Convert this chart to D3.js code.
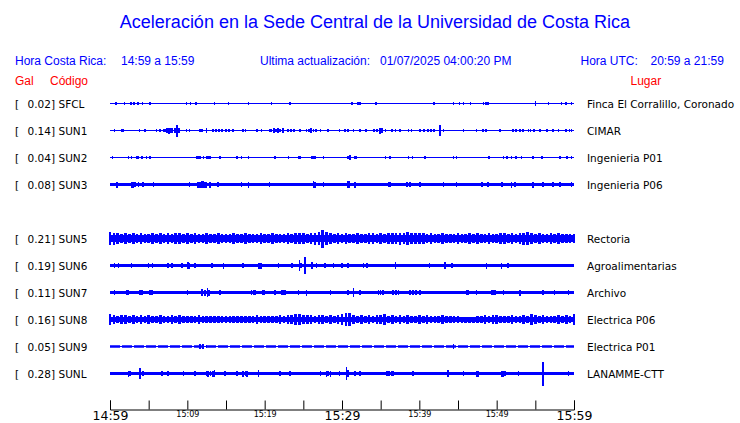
<!DOCTYPE html>
<html><head><meta charset="utf-8">
<script src="https://cdn.jsdelivr.net/npm/d3@7"></script>
<style>body{margin:0;background:#fff}svg{display:block}</style>
</head><body><svg id="c" width="740" height="423"></svg>
<script>
// ---------- DATA ----------
const titleText = "Aceleración en la Sede Central de la Universidad de Costa Rica";
const localRange = "14:59 a 15:59";
const utcRange = "20:59 a 21:59";
const lastUpdate = "01/07/2025 04:00:20 PM";

const rowOrder = ["SFCL","SUN1","SUN2","SUN3","SUN4","SUN5","SUN6","SUN7","SUN8","SUN9","SUNL"];
const codes = ["SFCL","SUN1","SUN2","SUN3","SUN5","SUN6","SUN7","SUN8","SUN9","SUNL"];
const galValues = [0.02,0.14,0.04,0.08,0.21,0.19,0.11,0.16,0.05,0.28];
const places = ["Finca El Corralillo, Coronado","CIMAR","Ingenieria P01","Ingenieria P06","Rectoria",
  "Agroalimentarias","Archivo","Electrica P06","Electrica P01","LANAMME-CTT"];
// background noise half-amplitude (Gal)
const baseNoise = [0.012,0.016,0.012,0.045,0.085,0.042,0.04,0.062,0.028,0.045];

// spikes: [minutes after 14:59, half-amplitude in Gal]
const spikesSFCL = [[0.8,.035],[1.9,.04],[2.7,.035],[3.1,.035],[3.6,.045],[4.2,.03],[5.2,.03],[9.9,.03],[10.4,.035],[11.1,.035],[13.5,.04],[15.3,.04],[17.9,.03],[20.9,.035],[23.3,.03],[31.3,.035],[32.1,.03],[32.3,.035],[34.4,.03],[41.9,.035],[44.4,.03],[45.2,.035],[45.7,.03],[46.6,.03],[48.3,.035],[48.6,.035],[48.9,.035],[55.0,.05],[56.7,.035],[58.4,.035],[59.0,.03],[59.7,.03]];
const spikesSUN1 = [[0.6,.025],[1.5,.035],[1.7,.035],[3.8,.025],[4.5,.025],[6.0,.035],[6.5,.035],[6.9,.045],[7.1,.045],[7.4,.06],[7.6,.07],[7.9,.06],[8.1,.06],[8.4,.06],[8.7,.14],[8.9,.06],[9.9,.025],[10.3,.025],[11.6,.035],[11.9,.035],[12.5,.06],[13.3,.035],[13.7,.035],[14.1,.025],[14.5,.035],[15.0,.025],[15.4,.035],[15.9,.035],[17.2,.035],[17.5,.035],[19.0,.035],[19.6,.035],[20.7,.035],[20.9,.045],[21.2,.06],[21.5,.045],[21.7,.06],[22.0,.045],[22.4,.06],[23.0,.035],[23.4,.035],[23.8,.035],[24.6,.035],[25.4,.045],[25.7,.045],[26.0,.06],[26.3,.045],[26.6,.045],[27.2,.035],[28.2,.035],[29.7,.035],[30.4,.025],[30.8,.035],[31.5,.025],[32.3,.025],[33.1,.025],[34.1,.045],[34.5,.045],[34.9,.07],[35.2,.06],[35.6,.045],[36.5,.035],[36.9,.035],[37.5,.025],[38.6,.025],[39.0,.025],[40.1,.035],[40.6,.035],[41.1,.045],[41.5,.035],[41.9,.035],[42.7,.12],[43.1,.035],[45.7,.035],[47.4,.025],[48.2,.035],[48.6,.035],[50.4,.025],[52.1,.035],[52.5,.035],[53.0,.035],[53.4,.035],[54.1,.045],[54.4,.045],[54.8,.045],[55.6,.035],[56.5,.025],[57.3,.025],[58.0,.035],[59.0,.035],[59.4,.035],[59.7,.035]];
const spikesSUN2 = [[0.3,.035],[2.4,.025],[2.8,.035],[3.5,.035],[3.7,.035],[4.1,.025],[4.7,.025],[5.2,.025],[11.2,.025],[11.4,.035],[11.6,.035],[12.1,.035],[12.5,.035],[12.7,.035],[12.9,.035],[14.2,.035],[16.4,.025],[17.0,.035],[17.9,.035],[21.3,.025],[23.1,.025],[24.4,.025],[24.6,.025],[26.1,.035],[26.3,.035],[26.5,.035],[27.6,.025],[30.8,.035],[31.0,.06],[31.7,.035],[31.9,.035],[35.6,.025],[36.2,.025],[38.6,.025],[39.1,.025],[40.7,.025],[44.4,.025],[44.8,.025],[49.0,.035],[50.9,.025],[51.3,.025],[51.9,.025],[52.5,.025],[53.2,.025],[54.7,.025],[55.9,.025],[58.2,.025],[59.1,.035],[59.7,.025]];
const spikesSUN3 = [[0.9,.07],[2.8,.07],[3.0,.07],[3.2,.06],[3.7,.06],[4.3,.06],[5.6,.06],[10.3,.06],[11.4,.07],[11.6,.07],[11.9,.08],[12.1,.09],[12.3,.07],[12.5,.07],[12.9,.07],[14.0,.06],[17.0,.06],[17.9,.07],[20.6,.06],[26.3,.09],[26.5,.07],[27.6,.06],[30.8,.08],[30.9,.09],[31.7,.07],[36.0,.06],[36.2,.06],[38.4,.06],[38.8,.06],[40.1,.06],[43.1,.06],[44.8,.06],[48.1,.06],[48.9,.06],[50.7,.06],[51.9,.07],[52.4,.06],[54.7,.07],[56.0,.06],[57.3,.06],[58.2,.06],[59.7,.06]];
const spikesSUN5 = [];
const spikesSUN6 = [[0.6,.05],[1.1,.05],[2.8,.05],[5.0,.05],[5.5,.05],[7.5,.05],[8.0,.05],[9.3,.05],[10.0,.08],[10.1,.09],[10.3,.07],[11.0,.06],[13.2,.06],[14.7,.07],[17.2,.05],[19.3,.07],[19.5,.07],[21.8,.05],[23.5,.05],[24.5,.12],[24.7,.06],[25.2,.19],[26.1,.09],[26.7,.06],[27.8,.05],[28.9,.05],[30.0,.05],[30.8,.05],[32.8,.05],[33.2,.05],[36.9,.09],[41.3,.05],[43.3,.09],[44.2,.06],[48.7,.07],[50.6,.07],[51.5,.05]];
const spikesSUN7 = [[0.6,.05],[2.2,.05],[2.4,.05],[3.9,.05],[4.1,.05],[5.2,.06],[5.4,.06],[8.8,.045],[10.0,.05],[11.9,.09],[12.3,.07],[12.6,.1],[12.8,.07],[14.2,.05],[18.3,.06],[18.6,.06],[18.8,.06],[19.8,.05],[20.0,.05],[21.3,.05],[22.2,.06],[22.4,.05],[22.6,.06],[24.4,.05],[25.4,.07],[28.5,.05],[30.8,.05],[31.5,.11],[32.3,.05],[34.7,.06],[35.0,.06],[35.3,.05],[36.6,.05],[37.0,.05],[37.3,.05],[38.8,.05],[39.2,.05],[39.6,.06],[40.1,.05],[41.8,.045],[46.1,.05],[46.3,.05],[47.4,.05],[49.4,.05],[49.6,.05],[49.8,.05],[50.9,.05],[53.0,.07],[56.0,.05],[57.5,.05],[59.3,.05]];
const spikesSUN8 = [];
const spikesSUN9 = [[11.6,.05],[12.0,.05],[12.5,.04],[44.4,.05]];
const spikesSUNL = [[2.4,.07],[2.6,.06],[3.9,.12],[4.3,.06],[6.7,.05],[7.5,.05],[9.5,.05],[11.0,.05],[12.5,.06],[12.7,.07],[13.0,.06],[13.3,.07],[13.5,.09],[14.9,.05],[16.4,.05],[17.2,.07],[17.5,.06],[17.7,.07],[19.2,.09],[22.0,.05],[23.3,.05],[27.2,.05],[28.0,.07],[28.2,.06],[28.5,.07],[29.7,.05],[30.6,.16],[30.8,.09],[31.7,.05],[32.3,.05],[35.8,.05],[36.1,.05],[36.4,.05],[36.6,.05],[39.2,.05],[43.7,.09],[45.7,.05],[47.4,.07],[47.6,.07],[50.7,.07],[50.9,.07],[51.1,.06],[52.8,.05],[56.0,.28],[59.3,.05]];

// envelope of the noisy traces, one value every 30 s (Gal)
const envSUN5 = [0.15,0.14,0.12,0.11,0.12,0.10,0.12,0.11,0.13,0.11,
  0.10,0.12,0.11,0.12,0.10,0.13,0.11,0.12,0.13,0.11,
  0.12,0.10,0.12,0.11,0.10,0.12,0.11,0.10,0.12,0.11,
  0.10,0.11,0.13,0.11,0.10,0.12,0.11,0.10,0.11,0.12,
  0.11,0.10,0.12,0.11,0.10,0.11,0.12,0.11,0.13,0.12,
  0.12,0.11,0.13,0.14,0.16,0.21,0.15,0.12,0.11,0.12,
  0.11,0.12,0.10,0.11,0.12,0.11,0.10,0.12,0.13,0.11,
  0.12,0.11,0.12,0.13,0.12,0.14,0.13,0.15,0.13,0.12,
  0.13,0.12,0.11,0.12,0.10,0.11,0.12,0.11,0.10,0.11,
  0.12,0.11,0.10,0.12,0.11,0.12,0.10,0.11,0.12,0.11,
  0.11,0.12,0.13,0.11,0.12,0.11,0.12,0.14,0.16,0.12,
  0.11,0.12,0.11,0.10,0.12,0.11,0.12,0.11,0.10,0.11,
  0.11];
const envSUN8 = [0.12,0.11,0.09,0.10,0.11,0.09,0.10,0.08,0.10,0.09,
  0.10,0.09,0.08,0.10,0.09,0.08,0.10,0.09,0.10,0.08,
  0.09,0.08,0.09,0.10,0.08,0.09,0.08,0.08,0.09,0.08,
  0.08,0.09,0.08,0.08,0.09,0.08,0.09,0.08,0.10,0.09,
  0.08,0.09,0.08,0.09,0.10,0.09,0.11,0.10,0.12,0.13,
  0.11,0.10,0.11,0.09,0.10,0.11,0.09,0.10,0.09,0.10,
  0.12,0.16,0.15,0.10,0.09,0.10,0.09,0.10,0.09,0.10,
  0.10,0.12,0.09,0.10,0.09,0.10,0.09,0.10,0.08,0.09,
  0.10,0.09,0.10,0.09,0.08,0.09,0.10,0.09,0.08,0.09,
  0.08,0.07,0.07,0.07,0.07,0.08,0.09,0.10,0.09,0.10,
  0.10,0.09,0.08,0.09,0.10,0.09,0.08,0.10,0.09,0.12,
  0.10,0.09,0.10,0.09,0.08,0.09,0.10,0.09,0.10,0.09,
  0.12];

const tickMinutes = [0,5,10,15,20,25,30,35,40,45,50,55,60];
const tickLabels = {0:"14:59",10:"15:09",20:"15:19",30:"15:29",40:"15:39",50:"15:49",60:"15:59"};
const majorTicks = [0,30,60];

// ---------- DRAW ----------
const spikeSets = {SFCL:spikesSFCL,SUN1:spikesSUN1,SUN2:spikesSUN2,SUN3:spikesSUN3,SUN5:spikesSUN5,
  SUN6:spikesSUN6,SUN7:spikesSUN7,SUN8:spikesSUN8,SUN9:spikesSUN9,SUNL:spikesSUNL};
const envSets = {SUN5:envSUN5, SUN8:envSUN8};

const svg = d3.select("#c");
const BLUE = "#0000ff", RED = "#ff0000";
const t0 = new Date(2025,0,7,14,59,0), t1 = new Date(2025,0,7,15,59,0);
const tm = m => new Date(t0.getTime() + m*60000);
const x = d3.scaleTime().domain([t0,t1]).range([110,574]);
const y = d3.scalePoint().domain(rowOrder).range([103.5,373.5]);
const amp = d3.scaleLinear().domain([0,0.28]).range([0,12]);

const sans = "'Liberation Sans', Arial, sans-serif";
const dv = "'DejaVu Sans', sans-serif";

svg.append("text").attr("x",375).attr("y",28).attr("text-anchor","middle")
  .attr("font-family",sans).attr("font-size",18).attr("fill",BLUE).text(titleText);

const hdr = [["Hora Costa Rica:",15],[localRange,121],["Ultima actualización:",260],[lastUpdate,380],["Hora UTC:",580.5],[utcRange,650.5]];
svg.selectAll("text.hdr").data(hdr).join("text").attr("class","hdr")
  .attr("x",d=>d[1]).attr("y",65).attr("font-family",sans).attr("font-size",12).attr("fill",BLUE).text(d=>d[0]);
const hdr2 = [["Gal",15],["Código",50],["Lugar",630.5]];
svg.selectAll("text.hdr2").data(hdr2).join("text").attr("class","hdr2")
  .attr("x",d=>d[1]).attr("y",85).attr("font-family",sans).attr("font-size",12).attr("fill",RED).text(d=>d[0]);

const rows = svg.selectAll("g.row").data(codes.map((c,i)=>({code:c,gal:galValues[i],place:places[i],base:baseNoise[i]})))
  .join("g").attr("class","row").attr("transform",d=>`translate(0,${y(d.code)})`);

const lbl = sel => sel.attr("font-family",dv).attr("font-size",10.5).attr("fill","#000").attr("y",4);
rows.append("text").call(lbl).attr("x",15).text("[");
rows.append("text").call(lbl).attr("x",27.5).text(d=>d.gal.toFixed(2)+"]");
rows.append("text").call(lbl).attr("x",58.5).text(d=>d.code);
rows.append("text").call(lbl).attr("x",587).text(d=>d.place);

// baseline noise band
rows.append("rect").attr("x",x(t0)).attr("width",x(t1)-x(t0))
  .attr("y",d=>-Math.max(0.5,amp(d.base))).attr("height",d=>2*Math.max(0.5,amp(d.base)))
  .attr("fill",BLUE).attr("shape-rendering","crispEdges")
  .filter(d=>d.code==="SUN9").attr("y",-0.5).attr("height",1);

// dashed-looking noise for SUN9
rows.filter(d=>d.code==="SUN9").append("line")
  .attr("x1",x(t0)).attr("x2",x(t1)).attr("y1",0).attr("y2",0)
  .attr("stroke",BLUE).attr("stroke-width",d=>2*amp(d.base)).attr("stroke-dasharray","10,2");

// envelope hairs
rows.each(function(d){
  const env = envSets[d.code];
  if(!env) return;
  d3.select(this).selectAll("rect.hair").data(env).join("rect").attr("class","hair")
    .attr("x",(v,i)=>x(tm(i*0.5))-1.3).attr("width",2.6)
    .attr("y",v=>-amp(v)).attr("height",v=>2*amp(v))
    .attr("fill",BLUE).attr("shape-rendering","crispEdges");
});

// spikes
rows.each(function(d){
  d3.select(this).selectAll("rect.spk").data(spikeSets[d.code]).join("rect").attr("class","spk")
    .attr("x",s=>x(tm(s[0]))-0.8).attr("width",1.6)
    .attr("y",s=>-amp(s[1])).attr("height",s=>2*amp(s[1]))
    .attr("fill",BLUE).attr("shape-rendering","crispEdges");
});

// time axis
const axis = d3.axisBottom(x).tickValues(tickMinutes.map(tm)).tickSize(-9).tickSizeOuter(-9).tickPadding(0)
  .tickFormat(d=>{const m=Math.round((d-t0)/60000); return tickLabels[m]||"";});
const ax = svg.append("g").attr("transform","translate(0,409.5)").call(axis);
ax.select(".domain").attr("stroke","#000");
ax.selectAll(".tick line").attr("stroke","#000");
const isMajor = d=>majorTicks.includes(Math.round((d-t0)/60000));
ax.selectAll(".tick text").attr("fill","#000").attr("font-family",dv).attr("dy",null)
  .attr("font-size",d=>isMajor(d)?12.5:8)
  .attr("y",d=>isMajor(d)?10.5:7.5);
</script></body></html>
